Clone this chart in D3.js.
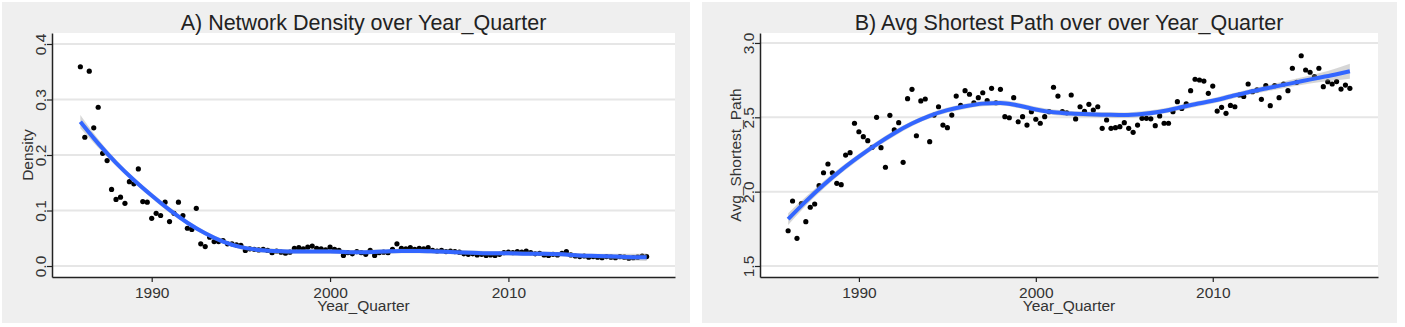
<!DOCTYPE html>
<html>
<head>
<meta charset="utf-8">
<script src="https://cdnjs.cloudflare.com/ajax/libs/d3/7.8.5/d3.min.js"></script>
<style>
  body { margin: 0; background: #fff; }
  svg { display: block; font-family: "Liberation Sans", Arial, sans-serif; }
</style>
</head>
<body>
<div id="chart"></div>
<script>
// quarters 1986 Q1 .. 2017 Q4
var quarters = d3.range(128).map(i => 1986 + i / 4);

var densityValues = [
  0.359, 0.232, 0.351, 0.249,  0.286, 0.203, 0.190, 0.138,
  0.120, 0.124, 0.113, 0.152,  0.148, 0.175, 0.116, 0.115,
  0.086, 0.095, 0.091, 0.115,  0.080, 0.095, 0.115, 0.091,
  0.068, 0.066, 0.104, 0.040,  0.035, 0.052, 0.044, 0.044,
  0.046, 0.040, 0.040, 0.038,  0.037, 0.028, 0.031, 0.030,
  0.029, 0.030, 0.028, 0.024,  0.027, 0.025, 0.023, 0.025,
  0.032, 0.033, 0.031, 0.034,  0.036, 0.032, 0.031, 0.029,
  0.034, 0.030, 0.028, 0.019,  0.024, 0.022, 0.026, 0.024,
  0.021, 0.028, 0.019, 0.024,  0.025, 0.024, 0.030, 0.040,
  0.032, 0.031, 0.033, 0.030,  0.032, 0.031, 0.033, 0.028,
  0.027, 0.028, 0.026, 0.027,  0.026, 0.025, 0.022, 0.021,
  0.022, 0.020, 0.021, 0.019,  0.020, 0.019, 0.021, 0.024,
  0.025, 0.024, 0.026, 0.025,  0.027, 0.024, 0.022, 0.023,
  0.020, 0.019, 0.021, 0.020,  0.023, 0.026, 0.020, 0.018,
  0.017, 0.018, 0.016, 0.017,  0.016, 0.015, 0.017, 0.016,
  0.015, 0.017, 0.016, 0.014,  0.015, 0.016, 0.018, 0.017
];

var pathValues = [
  1.737, 1.937, 1.686, 1.920,  1.798, 1.895, 1.917, 2.040,
  2.127, 2.186, 2.127, 2.056,  2.047, 2.246, 2.262, 2.460,
  2.403, 2.370, 2.343, 2.298,  2.500, 2.296, 2.164, 2.513,
  2.415, 2.464, 2.197, 2.625,  2.688, 2.376, 2.610, 2.623,
  2.336, 2.515, 2.571, 2.448,  2.430, 2.515, 2.643, 2.580,
  2.679, 2.655, 2.598, 2.632,  2.665, 2.612, 2.695, 2.598,
  2.688, 2.504, 2.497, 2.632,  2.470, 2.504, 2.448, 2.538,
  2.487, 2.460, 2.504, 2.538,  2.702, 2.643, 2.538, 2.530,
  2.650, 2.489, 2.571, 2.540,  2.587, 2.549, 2.571, 2.426,
  2.482, 2.426, 2.430, 2.437,  2.464, 2.426, 2.399, 2.448,
  2.493, 2.493, 2.490, 2.444,  2.509, 2.460, 2.460, 2.538,
  2.605, 2.560, 2.590, 2.679,  2.756, 2.751, 2.744, 2.661,
  2.710, 2.542, 2.567, 2.527,  2.580, 2.571, 2.650, 2.640,
  2.724, 2.672, 2.684, 2.621,  2.713, 2.578, 2.713, 2.632,
  2.724, 2.679, 2.830, 2.735,  2.914, 2.818, 2.803, 2.773,
  2.830, 2.706, 2.739, 2.724,  2.740, 2.690, 2.717, 2.695
];

// loess fit
var smoothYears = [1986, 1987, 1988, 1989, 1990, 1991, 1992, 1993, 1994, 1995, 1996,
  1997, 1998, 1999, 2000, 2001, 2002, 2003, 2004, 2005, 2006, 2007, 2008, 2009,
  2010, 2011, 2012, 2013, 2014, 2015, 2016, 2017, 2017.75];
var densitySmooth = [0.260, 0.221, 0.186, 0.155, 0.127, 0.101, 0.078, 0.059, 0.044, 0.034, 0.029,
  0.027, 0.026, 0.026, 0.026, 0.025, 0.025, 0.026, 0.027, 0.027, 0.026, 0.025, 0.024, 0.023,
  0.023, 0.022, 0.022, 0.021, 0.019, 0.018, 0.017, 0.016, 0.016];
var densityBand = [0.012, 0.008, 0.006, 0.005, 0.005, 0.005, 0.004, 0.004, 0.004, 0.004, 0.004,
  0.004, 0.004, 0.004, 0.004, 0.004, 0.004, 0.004, 0.004, 0.004, 0.004, 0.004, 0.004, 0.004,
  0.004, 0.004, 0.004, 0.004, 0.004, 0.004, 0.005, 0.006, 0.007];
var pathSmooth = [1.815, 1.935, 2.045, 2.145, 2.235, 2.318, 2.393, 2.458, 2.510, 2.548, 2.574,
  2.592, 2.597, 2.580, 2.553, 2.534, 2.525, 2.520, 2.517, 2.515, 2.522, 2.538, 2.562, 2.588,
  2.611, 2.640, 2.669, 2.694, 2.718, 2.742, 2.766, 2.790, 2.810];
var pathBand = [0.040, 0.030, 0.025, 0.022, 0.020, 0.020, 0.020, 0.018, 0.018, 0.018, 0.018,
  0.018, 0.018, 0.018, 0.018, 0.018, 0.018, 0.018, 0.018, 0.018, 0.018, 0.018, 0.018, 0.018,
  0.018, 0.018, 0.018, 0.020, 0.022, 0.025, 0.030, 0.040, 0.050];

var xTicks = [1990, 2000, 2010];
var densityTicks = [0, 0.1, 0.2, 0.3, 0.4];
var pathTicks = [1.5, 2.0, 2.5, 3.0];

var svg = d3.select("#chart").append("svg")
  .attr("width", 1405)
  .attr("height", 327);

var plotTop = 33, plotBottom = 277;

function drawPanel(p) {
  var g = svg.append("g");

  // grey panel background and white plot area
  g.append("rect")
    .attr("x", p.box[0]).attr("y", 2)
    .attr("width", p.box[1] - p.box[0]).attr("height", 321)
    .attr("fill", "#efefef");
  g.append("rect")
    .attr("x", p.left).attr("y", plotTop)
    .attr("width", p.right - p.left).attr("height", plotBottom - plotTop)
    .attr("fill", "#fff");

  var x = d3.scaleLinear().domain([1984.41, 2019.34]).range([p.left, p.right]);
  var y = d3.scaleLinear().domain(p.yDomain).range([plotBottom, plotTop]);

  // horizontal grid
  g.selectAll(".grid").data(p.yTicks).enter()
    .append("line")
    .attr("x1", p.left).attr("x2", p.right)
    .attr("y1", d => y(d)).attr("y2", d => y(d))
    .attr("stroke", "#e6e6e6")
    .attr("stroke-width", 2);

  // points
  g.selectAll(".pt").data(p.values).enter()
    .append("circle")
    .attr("cx", (d, i) => x(quarters[i]))
    .attr("cy", d => y(d))
    .attr("r", 2.6)
    .attr("fill", "#000");

  // smooth + confidence band
  var area = d3.area()
    .x((d, i) => x(smoothYears[i]))
    .y0((d, i) => y(d - p.band[i]))
    .y1((d, i) => y(d + p.band[i]))
    .curve(d3.curveMonotoneX);
  g.append("path").datum(p.smooth)
    .attr("d", area)
    .attr("fill", "#999")
    .attr("opacity", 0.4);

  var line = d3.line()
    .x((d, i) => x(smoothYears[i]))
    .y(d => y(d))
    .curve(d3.curveMonotoneX);
  g.append("path").datum(p.smooth)
    .attr("d", line)
    .attr("fill", "none")
    .attr("stroke", "#3366ff")
    .attr("stroke-width", 4);

  // axes
  var xAxis = g.append("g")
    .attr("transform", `translate(0, ${plotBottom})`)
    .call(d3.axisBottom(x).tickValues(xTicks).tickFormat(d3.format("d"))
      .tickSize(5).tickSizeOuter(0).tickPadding(5));
  var yAxis = g.append("g")
    .attr("transform", `translate(${p.left}, 0)`)
    .call(d3.axisLeft(y).tickValues(p.yTicks).tickFormat(d3.format(".1f"))
      .tickSize(5).tickSizeOuter(0));

  [xAxis, yAxis].forEach(function(a) {
    a.select(".domain").attr("stroke", "#222").attr("stroke-width", 1.5);
    a.selectAll(".tick line").attr("stroke", "#222").attr("stroke-width", 1.2);
    a.selectAll("text")
      .attr("font-size", "15.5px")
      .attr("font-family", "Liberation Sans, Arial, sans-serif")
      .attr("fill", "#333");
  });

  yAxis.selectAll("text")
    .attr("x", 0).attr("y", -6).attr("dy", null)
    .attr("transform", "rotate(-90)")
    .attr("text-anchor", "middle");

  // titles
  g.append("text")
    .attr("x", (p.left + p.right) / 2).attr("y", 30)
    .attr("text-anchor", "middle")
    .attr("font-size", "21.5px")
    .attr("fill", "#222")
    .text(p.title);

  g.append("text")
    .attr("x", (p.left + p.right) / 2).attr("y", 311)
    .attr("text-anchor", "middle")
    .attr("font-size", "15.5px")
    .attr("fill", "#333")
    .text("Year_Quarter");

  g.append("text")
    .attr("transform", `translate(${p.left - 19}, ${(plotTop + plotBottom) / 2}) rotate(-90)`)
    .attr("text-anchor", "middle")
    .attr("font-size", "15.5px")
    .attr("fill", "#333")
    .text(p.yTitle);
}

drawPanel({
  box: [2, 690], left: 52, right: 675,
  yDomain: [-0.0198, 0.4198], yTicks: densityTicks,
  values: densityValues, smooth: densitySmooth, band: densityBand,
  title: "A) Network Density over Year_Quarter", yTitle: "Density"
});

drawPanel({
  box: [702, 1397], left: 760, right: 1378,
  yDomain: [1.426, 3.067], yTicks: pathTicks,
  values: pathValues, smooth: pathSmooth, band: pathBand,
  title: "B) Avg Shortest Path over over Year_Quarter", yTitle: "Avg_Shortest_Path"
});
</script>
</body>
</html>
